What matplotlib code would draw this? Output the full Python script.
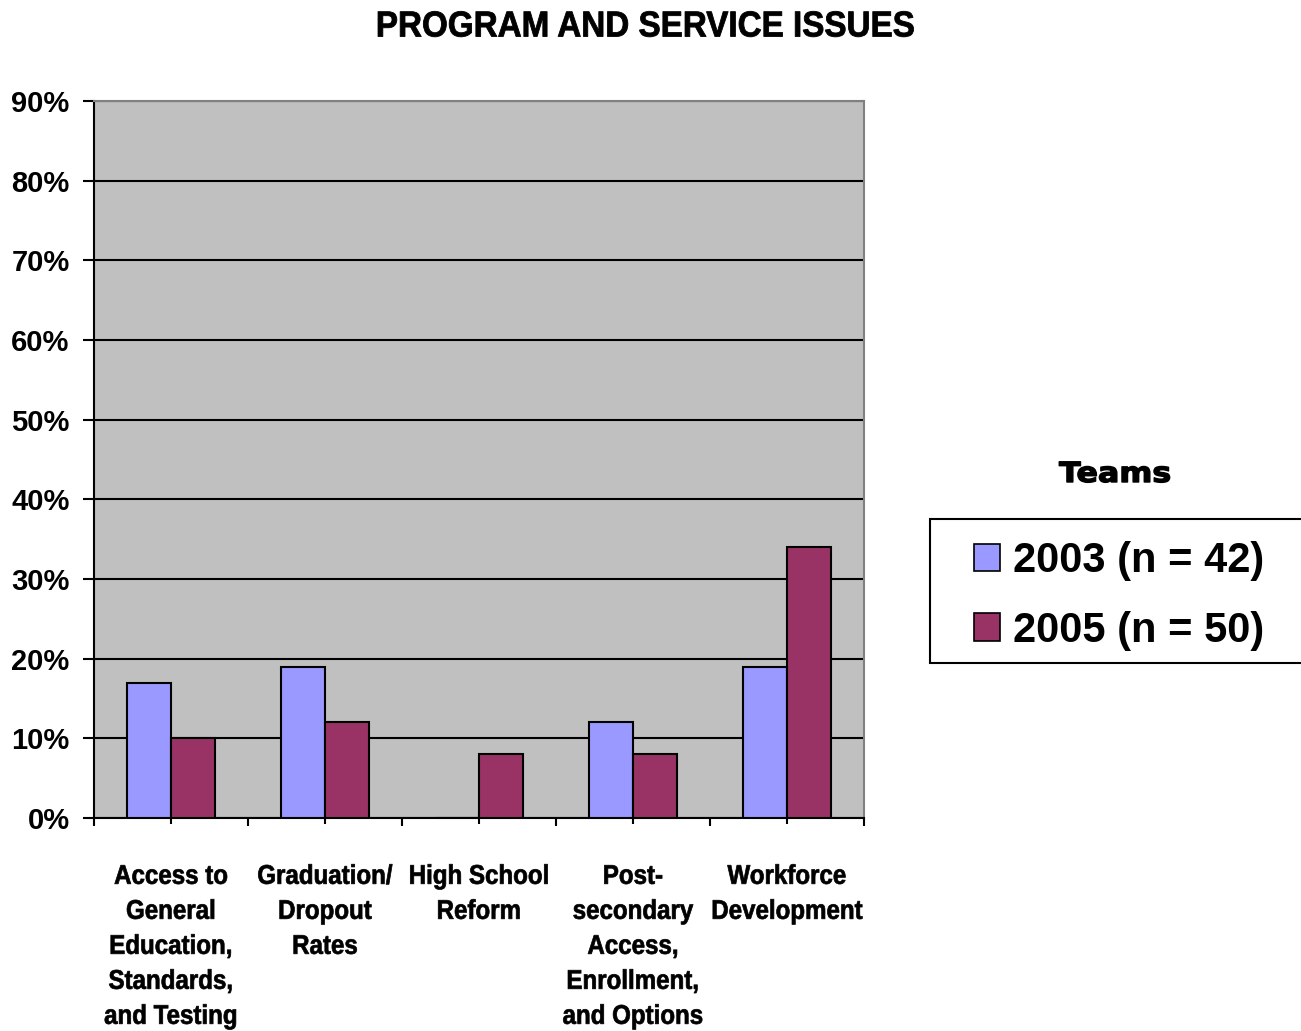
import matplotlib
matplotlib.use("Agg")
import matplotlib.pyplot as plt
from matplotlib.patches import Patch, Rectangle
from matplotlib.patheffects import AbstractPathEffect
from matplotlib.transforms import Affine2D
import numpy as np

categories = [
    "Access to\nGeneral\nEducation,\nStandards,\nand Testing",
    "Graduation/\nDropout\nRates",
    "High School\nReform",
    "Post-\nsecondary\nAccess,\nEnrollment,\nand Options",
    "Workforce\nDevelopment",
]
series_names = ["2003 (n = 42)", "2005 (n = 50)"]
values_2003 = [17, 19, 0, 12, 19]
values_2005 = [10, 12, 8, 8, 34]
y_ticks = [0, 10, 20, 30, 40, 50, 60, 70, 80, 90]
y_tick_labels = [f"{t}%" for t in y_ticks]

colors = ["#9999FF", "#993366"]


class HScale(AbstractPathEffect):
    """Squeeze or widen each text line horizontally about its own centre."""

    def __init__(self, sx, stroke=0.0):
        super().__init__()
        self.sx = sx
        self.stroke = stroke

    def draw_path(self, renderer, gc, tpath, affine, rgbFace=None):
        v = tpath.vertices
        c = 0.5 * (v[:, 0].min() + v[:, 0].max()) if len(v) else 0.0
        tr = Affine2D().translate(-c, 0).scale(self.sx, 1).translate(c, 0) + affine
        if self.stroke > 0:
            gc0 = renderer.new_gc()
            gc0.copy_properties(gc)
            gc0.set_linewidth(self.stroke)
            gc0.set_foreground(rgbFace if rgbFace is not None else "black")
            renderer.draw_path(gc0, tpath, tr, rgbFace)
            gc0.restore()
        else:
            renderer.draw_path(gc, tpath, tr, rgbFace)


W, H = 1301, 1031
fig = plt.figure(figsize=(W / 100, H / 100), dpi=100)
fig.patch.set_facecolor("white")

left, right, top, bottom = 94, 864, 101, 818
ax = fig.add_axes([left / W, 1 - bottom / H, (right - left) / W, (bottom - top) / H])
ax.set_facecolor("#C0C0C0")

x = np.arange(len(categories))
bw = 0.286
ax.bar(x - bw / 2, values_2003, bw, color=colors[0], edgecolor="black", linewidth=1.5, zorder=3)
ax.bar(x + bw / 2, values_2005, bw, color=colors[1], edgecolor="black", linewidth=1.5, zorder=3)

ax.set_xlim(-0.5, len(categories) - 0.5)
ax.set_ylim(0, 90)
ax.set_yticks(y_ticks)
ax.set_yticklabels(y_tick_labels, fontfamily="Liberation Sans", fontweight="bold", fontsize=21)
ax.yaxis.grid(True, color="black", linewidth=1.5, zorder=1)
ax.set_axisbelow(True)

# category boundaries carry the major ticks; labels sit at the centres
ax.set_xticks(np.arange(-0.5, len(categories), 1.0))
ax.set_xticklabels([])
ax.set_xticks(x, minor=True)
ax.set_xticklabels(categories, minor=True, fontfamily="Liberation Sans", fontweight="bold",
                   fontsize=19.5, linespacing=1.45, va="top")
for lbl in ax.get_xticklabels(minor=True):
    lbl.set_path_effects([HScale(0.89, stroke=0.5)])
ax.tick_params(axis="x", which="minor", length=9, width=1.5, direction="inout", pad=28.5)
ax.tick_params(axis="x", which="major", length=6, width=1.5, color="black")
ax.tick_params(axis="y", length=8, width=1.5, pad=9.5)

for side in ("left", "bottom"):
    ax.spines[side].set_color("black")
    ax.spines[side].set_linewidth(1.5)
for side in ("top", "right"):
    ax.spines[side].set_color("#808080")
    ax.spines[side].set_linewidth(1.5)

title = fig.text(645 / W, 1 - 27 / H, "PROGRAM AND SERVICE ISSUES", ha="center", va="center",
                 fontfamily="Liberation Sans", fontweight="bold", fontsize=26)
title.set_path_effects([HScale(0.92, stroke=0.6)])

teams = fig.text(1115 / W, 1 - 474 / H, "Teams", ha="center", va="center",
                 fontfamily="DejaVu Sans", fontweight="bold", fontsize=20)
teams.set_path_effects([HScale(1.14, stroke=1.0)])

# legend box runs off the right edge of the figure
fig.add_artist(Rectangle((930 / W, 1 - 663 / H), 400 / W, 144 / H, transform=fig.transFigure,
                         facecolor="white", edgecolor="black", linewidth=1.5, zorder=1))

handles = [Patch(facecolor=c, edgecolor="black", linewidth=1.2) for c in colors]
fs = 30
fpx = fs * 100 / 72
leg = fig.legend(handles, series_names, loc="upper left",
                 bbox_to_anchor=(974 / W, 1 - (561 - 0.5 * 0.965 * fpx) / H),
                 prop={"family": "Liberation Sans", "weight": "bold", "size": fs},
                 frameon=False, handlelength=26 / fpx, handleheight=26 / fpx,
                 handletextpad=13 / fpx, labelspacing=(70 - 0.965 * fpx) / fpx,
                 borderpad=0, borderaxespad=0)
leg.set_zorder(2)

fig.savefig("out.png", dpi=100, facecolor="white")
